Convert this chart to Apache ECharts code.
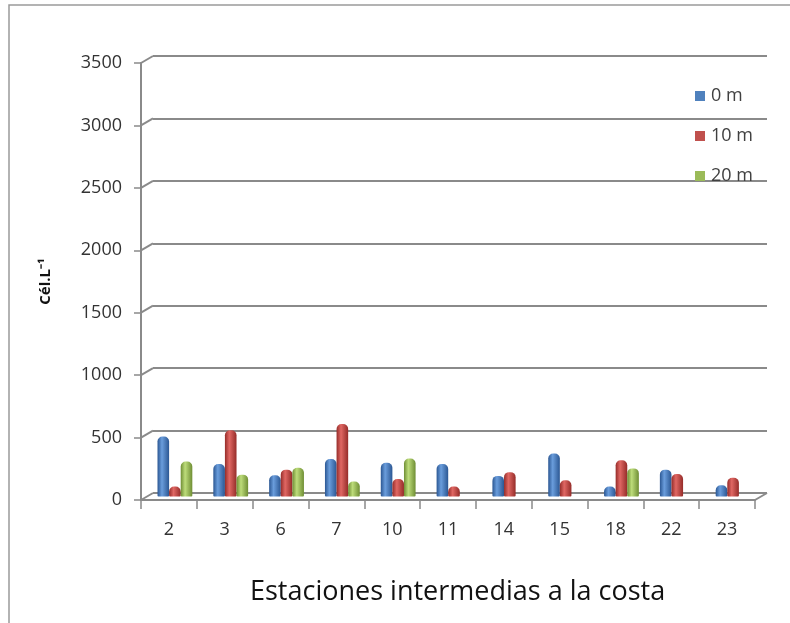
<!DOCTYPE html>
<html>
<head>
<meta charset="utf-8">
<script src="https://cdn.jsdelivr.net/npm/echarts@6/dist/echarts.min.js"></script>
<style>
  html, body { margin: 0; padding: 0; background: #fff; }
  #chart { width: 790px; height: 623px; }
</style>
</head>
<body>
<div id="chart"></div>
<script>
// Stations along the intermediate coastal transect
const categories = ['2', '3', '6', '7', '10', '11', '14', '15', '18', '22', '23'];
// Cell density (Cél.L⁻¹) per sampling depth
const depth0m  = [480, 260, 170, 300, 270, 260, 165, 345, 80, 215, 90];
const depth10m = [80, 530, 215, 580, 140, 80, 195, 130, 290, 180, 150];
const depth20m = [280, 175, 230, 120, 305, null, null, null, 225, null, null];
// Value axis ticks
const yTicks = [0, 500, 1000, 1500, 2000, 2500, 3000, 3500];
const seriesNames = ['0 m', '10 m', '20 m'];

const FONT = 'Open Sans';
const LINE = '#8a8a8a';
const Y_MAX = 3500;
const Y_STEP = 500;

// perspective offset between the front edge and the back wall
const DEPTH_DX = 12;
const DEPTH_DY = 7;

function cylinder(dark, light) {
  return {
    type: 'linear', x: 0, y: 0, x2: 1, y2: 0,
    colorStops: [
      { offset: 0, color: dark },
      { offset: 0.38, color: light },
      { offset: 1, color: dark }
    ]
  };
}

const palette = [
  { flat: '#4F81BD', fill: cylinder('#2b5793', '#6a9ddc') },
  { flat: '#C0504D', fill: cylinder('#952c29', '#e06763') },
  { flat: '#9BBB59', fill: cylinder('#6f8e34', '#bddc7a') }
];
const values = [depth0m, depth10m, depth20m];

const chart = echarts.init(document.getElementById('chart'), null, { renderer: 'canvas' });

const barSeries = values.map((data, i) => ({
  name: seriesNames[i],
  type: 'bar',
  xAxisIndex: 2,
  yAxisIndex: 2,
  data: data,
  barWidth: 11.6,
  barGap: '0%',
  itemStyle: { color: palette[i].fill, borderRadius: [5, 5, 1, 1] },
  z: 5
}));

// connectors from the front axis to the back wall for every gridline
const wallSeries = {
  type: 'custom',
  xAxisIndex: 0,
  yAxisIndex: 0,
  data: yTicks.map(v => [0, v]),
  silent: true,
  z: 2,
  renderItem: function (params, api) {
    const cs = params.coordSys;
    const y = api.coord([0, api.value(1)])[1];
    const children = [{
      type: 'line',
      shape: { x1: cs.x - DEPTH_DX, y1: y + DEPTH_DY, x2: cs.x, y2: y },
      style: { stroke: LINE, lineWidth: 2 }
    }];
    if (api.value(1) === 0) {
      const xr = cs.x + cs.width;
      children.push({
        type: 'line',
        shape: { x1: xr - DEPTH_DX, y1: y + DEPTH_DY, x2: xr, y2: y },
        style: { stroke: LINE, lineWidth: 2 }
      });
    }
    return { type: 'group', children: children };
  }
};

const option = {
  backgroundColor: '#ffffff',
  animation: false,
  textStyle: { fontFamily: FONT },
  graphic: [{
    type: 'polyline',
    shape: { points: [[9, 623], [9, 5], [790, 5]] },
    style: { stroke: '#9a9a9a', lineWidth: 1.5, fill: null }
  }],
  title: {
    text: 'Estaciones intermedias a la costa',
    left: 245,
    top: 574,
    textStyle: { fontFamily: FONT, fontSize: 27, fontWeight: 'normal', color: '#111' }
  },
  legend: {
    orient: 'vertical',
    left: 690,
    top: 82,
    itemWidth: 10,
    itemHeight: 10,
    itemGap: 22,
    icon: 'rect',
    textStyle: { fontFamily: FONT, fontSize: 18, color: '#404040', padding: [0, 0, 0, 1] },
    data: seriesNames.map((n, i) => ({ name: n, itemStyle: { color: palette[i].flat } }))
  },
  grid: [
    // back wall
    { left: 153, right: 23, top: 56, bottom: 130 },
    // front edge
    { left: 141, right: 35, top: 63, bottom: 123 },
    // bars at mid depth
    { left: 147, right: 29, top: 59.5, bottom: 126.5 }
  ],
  xAxis: [
    { gridIndex: 0, type: 'category', data: categories, show: false },
    {
      gridIndex: 1, type: 'category', data: categories,
      axisLine: { lineStyle: { color: LINE, width: 2 } },
      axisTick: { show: true, length: 9, lineStyle: { color: LINE, width: 1.5 } },
      axisLabel: { fontFamily: FONT, fontSize: 18, color: '#333', margin: 21 }
    },
    { gridIndex: 2, type: 'category', data: categories, show: false }
  ],
  yAxis: [
    {
      gridIndex: 0, type: 'value', min: 0, max: Y_MAX, interval: Y_STEP,
      axisLine: { show: false }, axisTick: { show: false }, axisLabel: { show: false },
      splitLine: { lineStyle: { color: LINE, width: 2 } }
    },
    {
      gridIndex: 1, type: 'value', min: 0, max: Y_MAX, interval: Y_STEP,
      name: 'Cél.L⁻¹',
      nameLocation: 'middle',
      nameGap: 88,
      nameTextStyle: { fontFamily: FONT, fontSize: 15, fontWeight: 'bold', color: '#111' },
      axisLine: { show: true, lineStyle: { color: LINE, width: 2 } },
      axisTick: { show: true, length: 7, lineStyle: { color: LINE, width: 1.5 } },
      axisLabel: {
        fontFamily: FONT, fontSize: 18, color: '#333', margin: 19,
        formatter: v => String(v)
      },
      splitLine: { show: false }
    },
    {
      gridIndex: 2, type: 'value', min: 0, max: Y_MAX, interval: Y_STEP,
      show: false, splitLine: { show: false }
    }
  ],
  series: [wallSeries].concat(barSeries)
};

chart.setOption(option);
</script>
</body>
</html>
